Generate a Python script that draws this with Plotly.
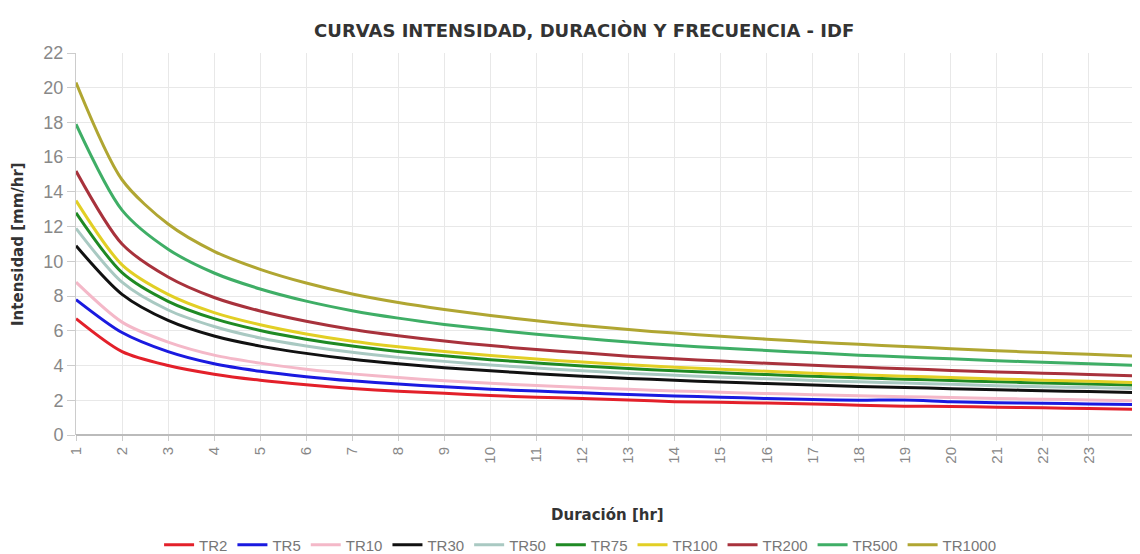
import plotly.graph_objects as go

DURACION = list(range(1, 25))

TR2 = [6.70, 4.80, 4.00, 3.50, 3.15, 2.89, 2.68, 2.52, 2.40, 2.27, 2.18, 2.10, 2.02, 1.92, 1.88, 1.84, 1.78, 1.72, 1.66, 1.64, 1.60, 1.57, 1.52, 1.48]
TR5 = [7.80, 5.90, 4.80, 4.10, 3.67, 3.36, 3.12, 2.93, 2.78, 2.64, 2.53, 2.43, 2.33, 2.25, 2.18, 2.10, 2.04, 2.00, 2.02, 1.92, 1.86, 1.83, 1.79, 1.75]
TR10 = [8.80, 6.50, 5.35, 4.60, 4.14, 3.79, 3.52, 3.31, 3.13, 2.98, 2.85, 2.74, 2.63, 2.54, 2.46, 2.39, 2.32, 2.26, 2.21, 2.16, 2.10, 2.06, 2.02, 1.97]
TR30 = [10.90, 8.10, 6.60, 5.70, 5.12, 4.70, 4.36, 4.10, 3.88, 3.70, 3.53, 3.39, 3.26, 3.15, 3.05, 2.96, 2.88, 2.80, 2.74, 2.67, 2.61, 2.55, 2.50, 2.44]
TR50 = [11.90, 8.80, 7.20, 6.25, 5.59, 5.13, 4.76, 4.47, 4.24, 4.03, 3.86, 3.70, 3.56, 3.44, 3.33, 3.24, 3.14, 3.06, 2.99, 2.92, 2.84, 2.78, 2.73, 2.67]
TR75 = [12.80, 9.35, 7.70, 6.70, 6.02, 5.52, 5.12, 4.81, 4.56, 4.34, 4.15, 3.98, 3.83, 3.70, 3.58, 3.48, 3.38, 3.29, 3.21, 3.14, 3.06, 3.00, 2.93, 2.87]
TR100 = [13.50, 9.80, 8.10, 7.05, 6.35, 5.82, 5.40, 5.08, 4.81, 4.58, 4.37, 4.20, 4.04, 3.90, 3.78, 3.67, 3.56, 3.47, 3.39, 3.31, 3.23, 3.16, 3.09, 3.02]
TR200 = [15.20, 11.00, 9.10, 7.92, 7.14, 6.55, 6.08, 5.72, 5.41, 5.15, 4.92, 4.73, 4.54, 4.39, 4.26, 4.13, 4.01, 3.91, 3.82, 3.72, 3.63, 3.56, 3.48, 3.40]
TR500 = [17.90, 12.95, 10.70, 9.33, 8.41, 7.71, 7.16, 6.73, 6.37, 6.07, 5.80, 5.57, 5.35, 5.17, 5.01, 4.87, 4.73, 4.60, 4.49, 4.39, 4.28, 4.19, 4.10, 4.01]
TR1000 = [20.30, 14.70, 12.15, 10.58, 9.54, 8.75, 8.12, 7.63, 7.23, 6.88, 6.58, 6.31, 6.07, 5.87, 5.68, 5.52, 5.36, 5.22, 5.10, 4.97, 4.85, 4.75, 4.65, 4.55]

SERIES = [
    ("TR2", TR2, "#e3202a"),
    ("TR5", TR5, "#1a1ae0"),
    ("TR10", TR10, "#f4b8c8"),
    ("TR30", TR30, "#111111"),
    ("TR50", TR50, "#a9c9c2"),
    ("TR75", TR75, "#1f8a24"),
    ("TR100", TR100, "#e2cf25"),
    ("TR200", TR200, "#a8323c"),
    ("TR500", TR500, "#3fae66"),
    ("TR1000", TR1000, "#b0a632"),
]

FONT = "Liberation Sans, Arial, sans-serif"
BOLD_FONT = "DejaVu Sans, Verdana, sans-serif"

fig = go.Figure()
for name, values, color in SERIES:
    fig.add_trace(
        go.Scatter(
            x=DURACION,
            y=values,
            name=name,
            mode="lines",
            line=dict(color=color, width=3, shape="spline", smoothing=0.8),
        )
    )

# the page body adds an 8px margin, so the figure is 8px smaller than the window
fig.update_layout(
    width=1132,
    height=546,
    paper_bgcolor="white",
    plot_bgcolor="white",
    margin=dict(l=68, r=5, t=45, b=119, autoexpand=False),
    font=dict(family=FONT, size=12, color="#666666"),
    title=dict(
        text="<b>CURVAS INTENSIDAD, DURACIÒN Y FRECUENCIA - IDF</b>",
        x=0.509,
        xanchor="center",
        y=0.958,
        yanchor="middle",
        font=dict(family=BOLD_FONT, size=18, color="#333333"),
    ),
    legend=dict(
        orientation="h",
        x=0.476,
        xanchor="center",
        y=-0.288,
        yanchor="middle",
        font=dict(family=FONT, size=15, color="#777777"),
        itemwidth=30,
        tracegroupgap=0,
    ),
    showlegend=True,
    annotations=[
        dict(
            text="<b>Duración [hr]</b>",
            xref="paper",
            yref="paper",
            x=0.502,
            y=-0.209,
            xanchor="center",
            yanchor="middle",
            showarrow=False,
            font=dict(family=BOLD_FONT, size=15, color="#333333"),
        ),
        dict(
            text="<b>Intensidad [mm/hr]</b>",
            xref="paper",
            yref="paper",
            x=-0.0548,
            y=0.5,
            xanchor="center",
            yanchor="middle",
            textangle=-90,
            showarrow=False,
            font=dict(family=BOLD_FONT, size=15, color="#333333"),
        ),
    ],
)

fig.update_xaxes(
    range=[1, 24],
    tickvals=DURACION,
    tickangle=-90,
    automargin=False,
    showgrid=True,
    gridcolor="#e8e8e8",
    showline=False,
    zeroline=False,
    ticks="outside",
    ticklen=5,
    tickcolor="#cccccc",
    tickfont=dict(size=15, color="#888888"),
)
fig.update_yaxes(
    range=[0, 22],
    dtick=2,
    automargin=False,
    showgrid=True,
    gridcolor="#e8e8e8",
    showline=True,
    linecolor="#cccccc",
    zeroline=True,
    zerolinecolor="#bbbbbb",
    zerolinewidth=1.5,
    ticks="outside",
    ticklen=8,
    tickcolor="#cccccc",
    tickfont=dict(size=18, color="#888888"),
)

fig.write_html("out.html")
